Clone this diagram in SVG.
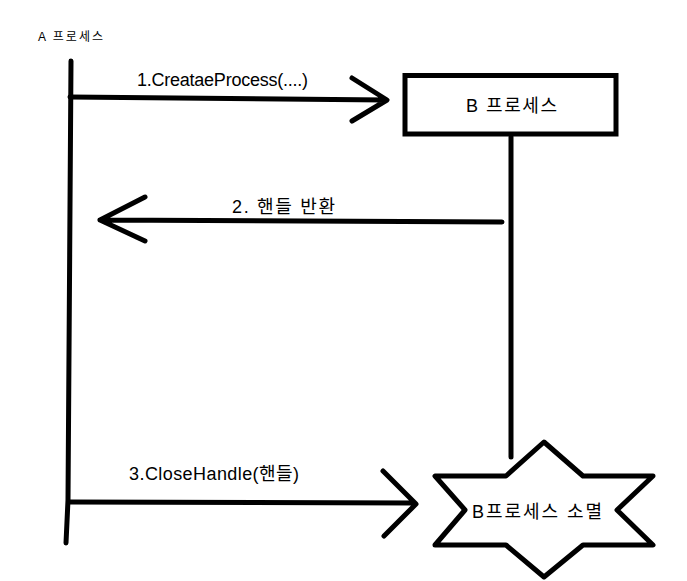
<svg xmlns="http://www.w3.org/2000/svg" width="687" height="581" viewBox="0 0 687 581">
<style>
.ln{stroke:#000;stroke-width:5;fill:none;stroke-linecap:round;stroke-linejoin:round}
.t{font-family:"Liberation Sans","Noto Sans CJK KR",sans-serif;fill:#000;font-size:18px}
</style>
<rect width="687" height="581" fill="#fff"/>
<g id="nodeA">
<text class="t" x="38" y="41" style="font-size:12px" textLength="65" lengthAdjust="spacing">A 프로세스</text>
<path class="ln" d="M71,61 L68,500 L66,543"/>
</g>
<g id="nodeB">
<rect x="405" y="75.5" width="211" height="58.5" fill="#fff" stroke="#000" stroke-width="5"/>
<text class="t" x="466" y="112" textLength="91" lengthAdjust="spacing">B 프로세스</text>
</g>
<g id="nodeEnd">
<polygon class="ln" fill="#fff" points="544,442 583,476 653,476 617,510 653,545 583,545 544,577 506,545 435,545 465,510 435,476 506,476"/>
<text class="t" x="472" y="518" textLength="130" lengthAdjust="spacing">B프로세스 소멸</text>
</g>
<g id="connectors">
<path class="ln" d="M511,137 L511,457"/>
<path class="ln" d="M70,97 L386,100 M352,78 L387,100 L352,121"/>
<text class="t" x="137" y="86" textLength="171" lengthAdjust="spacing">1.CreataeProcess(....)</text>
<path class="ln" d="M502,222 L100,220 M145,197 L100,220 L145,241"/>
<text class="t" x="232" y="213" textLength="103" lengthAdjust="spacing">2. 핸들 반환</text>
<path class="ln" d="M70,502 L414,503 M383,471 L416,504 L384,536"/>
<text class="t" x="129" y="480" textLength="170" lengthAdjust="spacing">3.CloseHandle(핸들)</text>
</g>
</svg>
